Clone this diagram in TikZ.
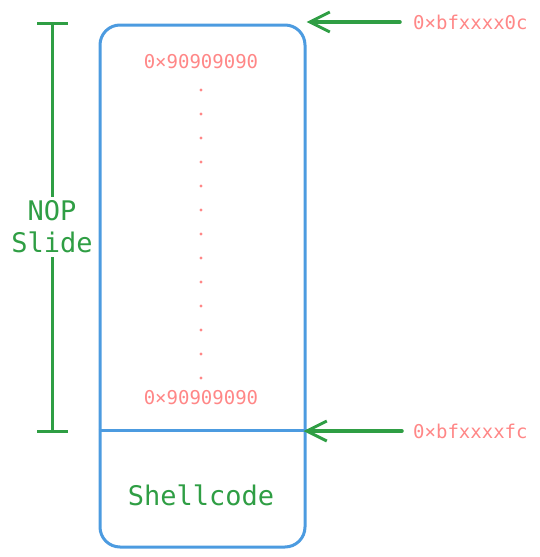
\documentclass[tikz,border=0pt]{standalone}
\usepackage{fontspec}
\setmonofont{DejaVu Sans Mono}
\usetikzlibrary{arrows.meta,positioning}
\definecolor{boxblue}{HTML}{4C9BE0}
\definecolor{addrred}{HTML}{FF8787}
\definecolor{nopgreen}{HTML}{2F9E44}
\tikzset{
  addr/.style={text=addrred, font=\ttfamily\fontsize{19}{22}\selectfont, inner sep=0pt},
  lbl/.style={text=nopgreen, font=\ttfamily\fontsize{27}{32}\selectfont, inner sep=0pt, align=center},
  ptr/.style={draw=nopgreen, line width=3.5pt, line cap=round,
    -{Straight Barb[length=20pt,width=20pt,line width=3pt]}},
}

\begin{document}
\begin{tikzpicture}[x=1pt,y=-1pt]
\useasboundingbox (0,0) rectangle (539,557);
% stack frame
\node[draw=boxblue, line width=3pt, rounded corners=20pt, minimum width=205pt, minimum height=522pt] (stack) at (202.5,286) {};
\coordinate (split) at (202.5,430);
\draw[boxblue, line width=3pt] (stack.west |- split) -- (stack.east |- split);
\node[addr] (nopa) at (201,62) {0×90909090};
\node[addr] (nopb) at (201,398) {0×90909090};
\foreach \i in {0,...,12}
  \fill[addrred] (201,90+24*\i) circle (1.6pt);
\node[lbl] (shell) at (201,495) {Shellcode};
% nop slide bracket
\node[lbl, inner sep=4pt] (slide) at (52,227) {NOP\\Slide};
\coordinate (btop) at (52,23);
\coordinate (bbot) at (52,431);
\draw[nopgreen, line width=3pt] (btop) -- (slide.north);
\draw[nopgreen, line width=3pt] (slide.south) -- (bbot);
\draw[nopgreen, line width=3pt] ([xshift=-15pt]btop) -- ([xshift=16pt]btop);
\draw[nopgreen, line width=3pt] ([xshift=-15pt]bbot) -- ([xshift=16pt]bbot);
% addresses
\node[addr, anchor=west] (hi) at (413,22) {0×bfxxxx0c};
\node[addr, anchor=west] (lo) at (413,431) {0×bfxxxxfc};
\draw[ptr, shorten <=13pt] (hi.west) -- (stack.north east |- hi.west);
\draw[ptr, shorten <=11pt, shorten >=-3pt] (lo.west) -- (stack.east |- lo.west);
\end{tikzpicture}
\end{document}
